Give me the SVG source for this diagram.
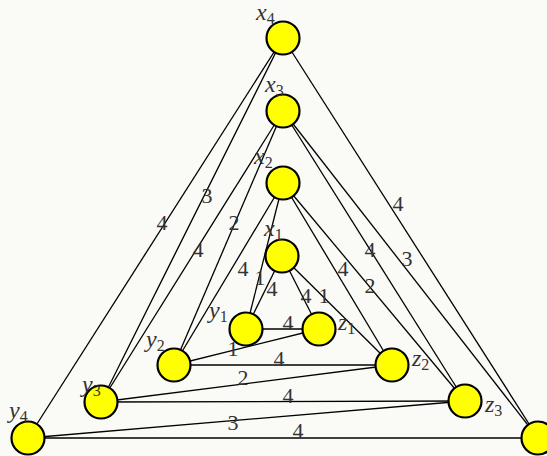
<svg xmlns="http://www.w3.org/2000/svg" width="547" height="456" viewBox="0 0 547 456">
<style>
.e{stroke:#000;stroke-width:1.3;fill:none}
.n{fill:#ffff00;stroke:#000;stroke-width:2.2}
.w{font-family:"Liberation Serif",serif;font-size:22px;fill:#333;text-anchor:middle}
.l{font-family:"Liberation Serif",serif;font-size:24px;font-style:italic;fill:#333}
.s{font-size:16px;font-style:normal}
</style>
<rect width="547" height="456" fill="#fafaf7"/>
<g id="connectors">
<line class="e" x1="283" y1="38" x2="28" y2="438"/>
<line class="e" x1="283" y1="38" x2="101" y2="402"/>
<line class="e" x1="283" y1="38" x2="538" y2="438"/>
<line class="e" x1="283" y1="111" x2="101" y2="402"/>
<line class="e" x1="283" y1="111" x2="174" y2="365"/>
<line class="e" x1="283" y1="111" x2="465" y2="401"/>
<line class="e" x1="283" y1="111" x2="538" y2="438"/>
<line class="e" x1="283" y1="183" x2="174" y2="365"/>
<line class="e" x1="283" y1="183" x2="246" y2="329"/>
<line class="e" x1="283" y1="183" x2="392" y2="365"/>
<line class="e" x1="283" y1="183" x2="465" y2="401"/>
<line class="e" x1="282" y1="256" x2="246" y2="329"/>
<line class="e" x1="282" y1="256" x2="319" y2="329"/>
<line class="e" x1="282" y1="256" x2="392" y2="365"/>
<line class="e" x1="246" y1="329" x2="319" y2="329"/>
<line class="e" x1="174" y1="365" x2="319" y2="329"/>
<line class="e" x1="174" y1="365" x2="392" y2="365"/>
<line class="e" x1="101" y1="402" x2="392" y2="365"/>
<line class="e" x1="101" y1="402" x2="465" y2="401"/>
<line class="e" x1="28" y1="438" x2="465" y2="401"/>
<line class="e" x1="28" y1="438" x2="538" y2="438"/>
<g id="edge-labels">
<text class="w" x="162" y="230">4</text>
<text class="w" x="207" y="203">3</text>
<text class="w" x="398" y="211">4</text>
<text class="w" x="198" y="257">4</text>
<text class="w" x="234" y="230">2</text>
<text class="w" x="370" y="257">4</text>
<text class="w" x="407" y="266">3</text>
<text class="w" x="243" y="276">4</text>
<text class="w" x="260" y="285">1</text>
<text class="w" x="343" y="276">4</text>
<text class="w" x="370" y="293">2</text>
<text class="w" x="272" y="296">4</text>
<text class="w" x="306" y="303">4</text>
<text class="w" x="324" y="303">1</text>
<text class="w" x="288" y="330">4</text>
<text class="w" x="233" y="356">1</text>
<text class="w" x="279" y="366">4</text>
<text class="w" x="243" y="385">2</text>
<text class="w" x="288" y="403">4</text>
<text class="w" x="233" y="430">3</text>
<text class="w" x="298" y="438">4</text>
</g>
</g>
<g id="x4"><circle class="n" cx="283" cy="38" r="16.5"/><text class="l" x="256" y="20">x<tspan class="s" dy="4">4</tspan></text></g>
<g id="x3"><circle class="n" cx="283" cy="111" r="16.5"/><text class="l" x="265" y="92">x<tspan class="s" dy="4">3</tspan></text></g>
<g id="x2"><circle class="n" cx="283" cy="183" r="16.5"/><text class="l" x="254" y="164">x<tspan class="s" dy="4">2</tspan></text></g>
<g id="x1"><circle class="n" cx="282" cy="256" r="16.5"/><text class="l" x="264" y="236">x<tspan class="s" dy="4">1</tspan></text></g>
<g id="y1"><circle class="n" cx="246" cy="329" r="16.5"/><text class="l" x="209" y="318">y<tspan class="s" dy="4">1</tspan></text></g>
<g id="z1"><circle class="n" cx="319" cy="329" r="16.5"/><text class="l" x="338" y="330">z<tspan class="s" dy="4">1</tspan></text></g>
<g id="y2"><circle class="n" cx="174" cy="365" r="16.5"/><text class="l" x="146" y="347">y<tspan class="s" dy="4">2</tspan></text></g>
<g id="z2"><circle class="n" cx="392" cy="365" r="16.5"/><text class="l" x="412" y="366">z<tspan class="s" dy="4">2</tspan></text></g>
<g id="y3"><circle class="n" cx="101" cy="402" r="16.5"/><text class="l" x="82" y="392">y<tspan class="s" dy="4">3</tspan></text></g>
<g id="z3"><circle class="n" cx="465" cy="401" r="16.5"/><text class="l" x="485" y="412">z<tspan class="s" dy="4">3</tspan></text></g>
<g id="y4"><circle class="n" cx="28" cy="438" r="16.5"/><text class="l" x="9" y="418">y<tspan class="s" dy="4">4</tspan></text></g>
<g id="z4"><circle class="n" cx="538" cy="438" r="16.5"/></g>
</svg>
